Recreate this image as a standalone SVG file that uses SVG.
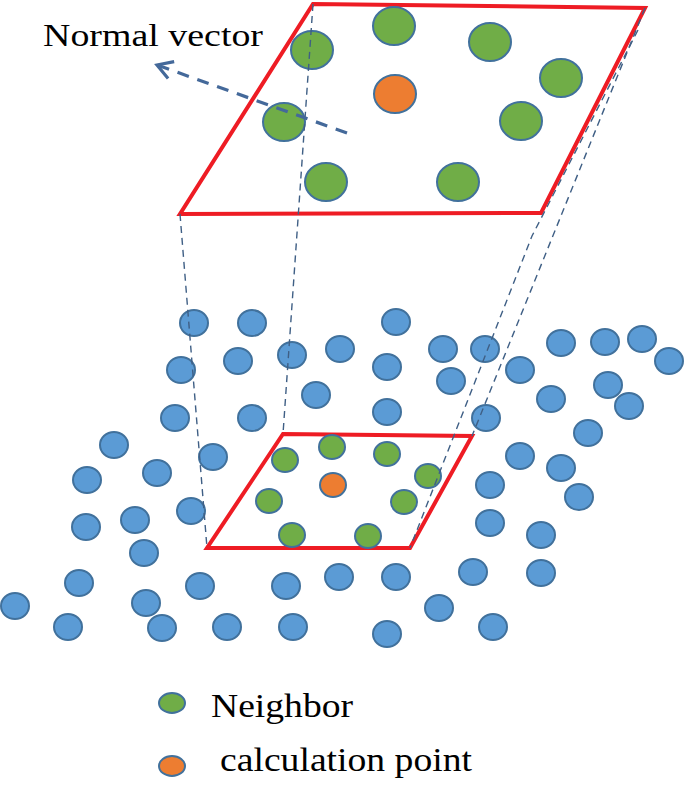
<svg xmlns="http://www.w3.org/2000/svg" width="685" height="787" viewBox="0 0 685 787">
<style>
.b{fill:#5b9bd5;stroke:#41719c;stroke-width:2}
.g{fill:#70ad47;stroke:#41719c;stroke-width:2}
.o{fill:#ed7d31;stroke:#41719c;stroke-width:2}
.plane{fill:none;stroke:#ee1c24;stroke-width:4;stroke-linejoin:miter}
.proj{fill:none;stroke:#3f5f85;stroke-width:1.4;stroke-dasharray:7 5}
.nv{fill:none;stroke:#44699a;stroke-width:3.2;stroke-dasharray:12 9}
</style>
<defs>
<marker id="ah" viewBox="0 0 24 24" refX="21" refY="12" markerWidth="24" markerHeight="24" markerUnits="userSpaceOnUse" orient="auto">
<path d="M6,3 L21,12 L6,21" fill="none" stroke="#44699a" stroke-width="3.2"/>
</marker>
</defs>
<rect width="685" height="787" fill="#fff"/>

<g id="cloud">
<g id="b1"><ellipse class="b" cx="194" cy="323" rx="14" ry="13"/></g>
<g id="b2"><ellipse class="b" cx="252" cy="323" rx="14" ry="13"/></g>
<g id="b3"><ellipse class="b" cx="396" cy="322" rx="14" ry="13"/></g>
<g id="b4"><ellipse class="b" cx="561" cy="343" rx="14" ry="13"/></g>
<g id="b5"><ellipse class="b" cx="605" cy="342" rx="14" ry="13"/></g>
<g id="b6"><ellipse class="b" cx="642" cy="339" rx="14" ry="13"/></g>
<g id="b7"><ellipse class="b" cx="669" cy="361" rx="14" ry="13"/></g>
<g id="b8"><ellipse class="b" cx="181" cy="370" rx="14" ry="13"/></g>
<g id="b9"><ellipse class="b" cx="238" cy="361" rx="14" ry="13"/></g>
<g id="b10"><ellipse class="b" cx="292" cy="355" rx="14" ry="13"/></g>
<g id="b11"><ellipse class="b" cx="340" cy="349" rx="14" ry="13"/></g>
<g id="b12"><ellipse class="b" cx="387" cy="367" rx="14" ry="13"/></g>
<g id="b13"><ellipse class="b" cx="443" cy="349" rx="14" ry="13"/></g>
<g id="b14"><ellipse class="b" cx="485" cy="349" rx="14" ry="13"/></g>
<g id="b15"><ellipse class="b" cx="520" cy="370" rx="14" ry="13"/></g>
<g id="b16"><ellipse class="b" cx="451" cy="381" rx="14" ry="13"/></g>
<g id="b17"><ellipse class="b" cx="316" cy="395" rx="14" ry="13"/></g>
<g id="b18"><ellipse class="b" cx="551" cy="399" rx="14" ry="13"/></g>
<g id="b19"><ellipse class="b" cx="608" cy="385" rx="14" ry="13"/></g>
<g id="b20"><ellipse class="b" cx="629" cy="406" rx="14" ry="13"/></g>
<g id="b21"><ellipse class="b" cx="175" cy="418" rx="14" ry="13"/></g>
<g id="b22"><ellipse class="b" cx="252" cy="418" rx="14" ry="13"/></g>
<g id="b23"><ellipse class="b" cx="387" cy="412" rx="14" ry="13"/></g>
<g id="b24"><ellipse class="b" cx="486" cy="418" rx="14" ry="13"/></g>
<g id="b25"><ellipse class="b" cx="588" cy="433" rx="14" ry="13"/></g>
<g id="b26"><ellipse class="b" cx="114" cy="445" rx="14" ry="13"/></g>
<g id="b27"><ellipse class="b" cx="213" cy="457" rx="14" ry="13"/></g>
<g id="b28"><ellipse class="b" cx="520" cy="456" rx="14" ry="13"/></g>
<g id="b29"><ellipse class="b" cx="561" cy="468" rx="14" ry="13"/></g>
<g id="b30"><ellipse class="b" cx="157" cy="473" rx="14" ry="13"/></g>
<g id="b31"><ellipse class="b" cx="87" cy="480" rx="14" ry="13"/></g>
<g id="b32"><ellipse class="b" cx="490" cy="485" rx="14" ry="13"/></g>
<g id="b33"><ellipse class="b" cx="579" cy="497" rx="14" ry="13"/></g>
<g id="b34"><ellipse class="b" cx="86" cy="527" rx="14" ry="13"/></g>
<g id="b35"><ellipse class="b" cx="135" cy="520" rx="14" ry="13"/></g>
<g id="b36"><ellipse class="b" cx="191" cy="511" rx="14" ry="13"/></g>
<g id="b37"><ellipse class="b" cx="490" cy="523" rx="14" ry="13"/></g>
<g id="b38"><ellipse class="b" cx="541" cy="535" rx="14" ry="13"/></g>
<g id="b39"><ellipse class="b" cx="144" cy="553" rx="14" ry="13"/></g>
<g id="b40"><ellipse class="b" cx="79" cy="583" rx="14" ry="13"/></g>
<g id="b41"><ellipse class="b" cx="200" cy="586" rx="14" ry="13"/></g>
<g id="b42"><ellipse class="b" cx="286" cy="586" rx="14" ry="13"/></g>
<g id="b43"><ellipse class="b" cx="339" cy="577" rx="14" ry="13"/></g>
<g id="b44"><ellipse class="b" cx="396" cy="577" rx="14" ry="13"/></g>
<g id="b45"><ellipse class="b" cx="473" cy="572" rx="14" ry="13"/></g>
<g id="b46"><ellipse class="b" cx="541" cy="573" rx="14" ry="13"/></g>
<g id="b47"><ellipse class="b" cx="15" cy="606" rx="14" ry="13"/></g>
<g id="b48"><ellipse class="b" cx="146" cy="603" rx="14" ry="13"/></g>
<g id="b49"><ellipse class="b" cx="439" cy="608" rx="14" ry="13"/></g>
<g id="b50"><ellipse class="b" cx="68" cy="627" rx="14" ry="13"/></g>
<g id="b51"><ellipse class="b" cx="162" cy="628" rx="14" ry="13"/></g>
<g id="b52"><ellipse class="b" cx="227" cy="627" rx="14" ry="13"/></g>
<g id="b53"><ellipse class="b" cx="293" cy="627" rx="14" ry="13"/></g>
<g id="b54"><ellipse class="b" cx="387" cy="634" rx="14" ry="13"/></g>
<g id="b55"><ellipse class="b" cx="493" cy="627" rx="14" ry="13"/></g>
</g>

<g id="small-patch">
<polygon class="plane" points="283,434 472,436 410,548 207,548"/>
<g id="sg1"><ellipse class="g" cx="285" cy="460" rx="13" ry="12"/></g>
<g id="sg2"><ellipse class="g" cx="332" cy="447" rx="13" ry="12"/></g>
<g id="sg3"><ellipse class="g" cx="387" cy="454" rx="13" ry="12"/></g>
<g id="sg4"><ellipse class="g" cx="428" cy="476" rx="13" ry="12"/></g>
<g id="sg5"><ellipse class="g" cx="269" cy="501" rx="13" ry="12"/></g>
<g id="sg6"><ellipse class="g" cx="404" cy="502" rx="13" ry="12"/></g>
<g id="sg7"><ellipse class="g" cx="292" cy="535" rx="13" ry="12"/></g>
<g id="sg8"><ellipse class="g" cx="368" cy="536" rx="13" ry="12"/></g>
<g id="so"><ellipse class="o" cx="333" cy="485" rx="13" ry="12"/></g>
</g>

<g id="big-patch">
<polygon class="plane" points="313,4 645,8 541,213 180,214"/>
<g id="g1"><ellipse class="g" cx="312" cy="50" rx="21" ry="19"/></g>
<g id="g2"><ellipse class="g" cx="394" cy="26" rx="21" ry="19"/></g>
<g id="g3"><ellipse class="g" cx="490" cy="42" rx="21" ry="19"/></g>
<g id="g4"><ellipse class="g" cx="561" cy="78" rx="21" ry="19"/></g>
<g id="g5"><ellipse class="g" cx="284" cy="122" rx="21" ry="19"/></g>
<g id="g6"><ellipse class="g" cx="521" cy="121" rx="21" ry="19"/></g>
<g id="g7"><ellipse class="g" cx="326" cy="182" rx="21" ry="19"/></g>
<g id="g8"><ellipse class="g" cx="458" cy="182" rx="21" ry="19"/></g>
<g id="go"><ellipse class="o" cx="395" cy="94" rx="21" ry="19"/></g>
</g>

<g id="connectors">
<line class="proj" x1="180" y1="214" x2="207" y2="548"/>
<line class="proj" x1="313" y1="4" x2="283" y2="434"/>
<line class="proj" x1="645" y1="8" x2="472" y2="436"/>
<polyline class="proj" points="638,30 532,236 410,548"/>
<line class="nv" x1="347" y1="133" x2="157" y2="65" marker-end="url(#ah)"/>
</g>

<g id="label-normal">
<text x="43" y="46" font-family="'Liberation Serif', 'Times New Roman', 'DejaVu Serif', serif" font-size="31" textLength="220" lengthAdjust="spacingAndGlyphs" fill="#000">Normal vector</text>
</g>

<g id="legend">
<g id="leg-neighbor">
<ellipse class="g" cx="172" cy="703" rx="13" ry="10"/>
<text x="211" y="717" font-family="'Liberation Serif', 'Times New Roman', 'DejaVu Serif', serif" font-size="33" textLength="142" lengthAdjust="spacingAndGlyphs" fill="#000">Neighbor</text>
</g>
<g id="leg-calc">
<ellipse class="o" cx="172" cy="766" rx="13" ry="10"/>
<text x="220" y="771" font-family="'Liberation Serif', 'Times New Roman', 'DejaVu Serif', serif" font-size="33" textLength="252" lengthAdjust="spacingAndGlyphs" fill="#000">calculation point</text>
</g>
</g>
</svg>
